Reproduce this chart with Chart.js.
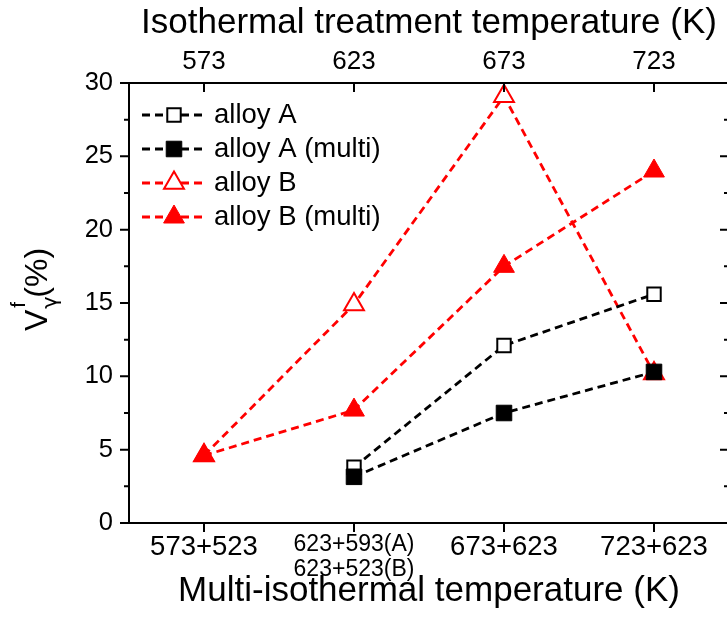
<!DOCTYPE html>
<html>
<head>
<meta charset="utf-8">
<script src="https://cdn.jsdelivr.net/npm/chart.js@4.4.1/dist/chart.umd.min.js"></script>
<style>
  html, body { margin: 0; padding: 0; overflow: hidden; background: #fff; }
  #chart { display: block; }
</style>
</head>
<body>
<canvas id="chart" width="731" height="617"></canvas>
<script>
// categories (bottom = multi-step treatment, top = single isothermal step)
const multiLabels = ['573+523', ['623+593(A)', '623+523(B)'], '673+623', '723+623'];
const isoLabels = ['573', '623', '673', '723'];

// retained austenite fraction, %
const alloyA = [null, 3.8, 12.1, 15.6];
const alloyAMulti = [null, 3.15, 7.5, 10.3];
const alloyB = [4.6, 14.9, 29.1, 10.2];
const alloyBMulti = [4.6, 7.7, 17.5, 24.0];

const FONT = 'Liberation Sans, Arial, sans-serif';
Chart.defaults.font.family = FONT;
Chart.defaults.color = '#000';

// box frame + tick marks (left/bottom outward, top/right inward)
const frameTicks = {
  id: 'frameTicks',
  afterDraw(chart) {
    const { ctx, chartArea: a, scales } = chart;
    ctx.save();
    ctx.strokeStyle = '#000';
    ctx.lineWidth = 2;
    ctx.strokeRect(a.left, a.top, a.right - a.left, a.bottom - a.top);
    ctx.beginPath();
    scales.x.ticks.forEach((t, i) => {
      const px = scales.x.getPixelForTick(i);
      ctx.moveTo(px, a.bottom); ctx.lineTo(px, a.bottom + 9);
    });
    scales.x2.ticks.forEach((t, i) => {
      const px = scales.x2.getPixelForTick(i);
      ctx.moveTo(px, a.top); ctx.lineTo(px, a.top + 9);
    });
    scales.y.ticks.forEach(t => {
      const py = scales.y.getPixelForValue(t.value);
      const len = t.value % 5 === 0 ? 9 : 5;
      ctx.moveTo(a.left - len, py); ctx.lineTo(a.left, py);
      ctx.moveTo(a.right - len, py); ctx.lineTo(a.right, py);
    });
    ctx.stroke();
    ctx.restore();
  }
};

// y title: V with superscript f and subscript gamma
const yTitle = {
  id: 'yTitle',
  afterDraw(chart) {
    const ctx = chart.ctx;
    ctx.save();
    ctx.translate(47, 331);
    ctx.rotate(-Math.PI / 2);
    ctx.fillStyle = '#000';
    ctx.textAlign = 'left';
    ctx.textBaseline = 'alphabetic';
    ctx.font = '32px ' + FONT;
    ctx.fillText('V', 0, 0);
    const vw = ctx.measureText('V').width;
    ctx.font = '21px ' + FONT;
    ctx.fillText('f', vw + 2, -22);
    ctx.font = '21px DejaVu Sans, ' + FONT;
    ctx.fillText('\u03B3', vw + 1, 10);
    ctx.font = '32px ' + FONT;
    ctx.fillText('(%)', vw + 12, 0);
    ctx.restore();
  }
};

// legend in the upper-left corner: dashed line with marker, then label
const lineLegend = {
  id: 'lineLegend',
  afterDraw(chart) {
    const ctx = chart.ctx;
    ctx.save();
    chart.data.datasets.forEach((ds, i) => {
      const y = 115 + i * 34;
      ctx.beginPath();
      ctx.setLineDash(ds.borderDash);
      ctx.lineWidth = ds.borderWidth;
      ctx.strokeStyle = ds.borderColor;
      ctx.moveTo(142, y); ctx.lineTo(206, y);
      ctx.stroke();
      ctx.setLineDash([]);
      ctx.fillStyle = ds.pointBackgroundColor;
      ctx.strokeStyle = ds.pointBorderColor;
      ctx.lineWidth = ds.pointBorderWidth;
      Chart.helpers.drawPoint(ctx, {
        pointStyle: ds.pointStyle, rotation: 0,
        radius: ds.pointRadius, borderWidth: ds.pointBorderWidth
      }, 174, y);
      ctx.fillStyle = '#000';
      ctx.font = '27.5px ' + FONT;
      ctx.textAlign = 'left';
      ctx.textBaseline = 'middle';
      ctx.fillText(ds.label, 214, y);
    });
    ctx.restore();
  }
};

function series(label, data, color, style, filled, order) {
  const square = style === 'rect';
  return {
    label, data, order,
    borderColor: color,
    borderWidth: 2.8,
    borderDash: [8, 5],
    tension: 0,
    fill: false,
    pointStyle: style,
    pointRadius: square ? (filled ? 11 : 9.5) : (filled ? 12 : 11.5),
    pointBorderWidth: filled ? 1 : 2,
    pointBackgroundColor: filled ? color : '#fff',
    pointBorderColor: color,
    clip: false
  };
}

// keep the plot box fixed: no extra room for overhanging labels
function fixX(h) {
  return (s) => { s.height = h; s.paddingLeft = 0; s.paddingRight = 0; };
}

new Chart(document.getElementById('chart'), {
  type: 'line',
  data: {
    labels: multiLabels,
    datasets: [
      series('alloy A', alloyA, '#000', 'rect', false, 1),
      series('alloy A (multi)', alloyAMulti, '#000', 'rect', true, 0),
      series('alloy B', alloyB, '#ff0000', 'triangle', false, 3),
      series('alloy B (multi)', alloyBMulti, '#ff0000', 'triangle', true, 2)
    ]
  },
  options: {
    responsive: false,
    animation: false,
    layout: { autoPadding: false, padding: { left: 0, right: 2, top: 0, bottom: 0 } },
    plugins: { legend: { display: false }, tooltip: { enabled: false } },
    scales: {
      x: {
        type: 'category',
        position: 'bottom',
        offset: true,
        grid: { display: false, drawTicks: false },
        border: { display: false },
        ticks: {
          autoSkip: false,
          maxRotation: 0,
          padding: 10,
          font: (c) => c.index === 1 ? { size: 23, lineHeight: 1.05 } : { size: 27.5, lineHeight: 1.05 }
        },
        title: {
          display: true,
          text: 'Multi-isothermal temperature (K)',
          font: { size: 35 },
          padding: { top: 0, bottom: 5 }
        },
        afterFit: fixX(94)
      },
      x2: {
        type: 'category',
        position: 'top',
        offset: true,
        labels: isoLabels,
        grid: { display: false, drawTicks: false },
        border: { display: false },
        ticks: { autoSkip: false, maxRotation: 0, padding: 6, font: { size: 26 } },
        title: {
          display: true,
          text: 'Isothermal treatment temperature (K)',
          font: { size: 35 },
          padding: { top: 2, bottom: 0 }
        },
        afterFit: fixX(83)
      },
      y: {
        type: 'linear',
        position: 'left',
        min: 0,
        max: 30,
        grid: { display: false, drawTicks: false },
        border: { display: false },
        ticks: {
          stepSize: 2.5,
          autoSkip: false,
          padding: 16,
          font: { size: 25.5 },
          callback: (v) => v % 5 === 0 ? v : ''
        },
        afterFit: (s) => { s.width = 129; s.paddingTop = 0; s.paddingBottom = 0; }
      }
    }
  },
  plugins: [frameTicks, yTitle, lineLegend]
});
</script>
</body>
</html>
